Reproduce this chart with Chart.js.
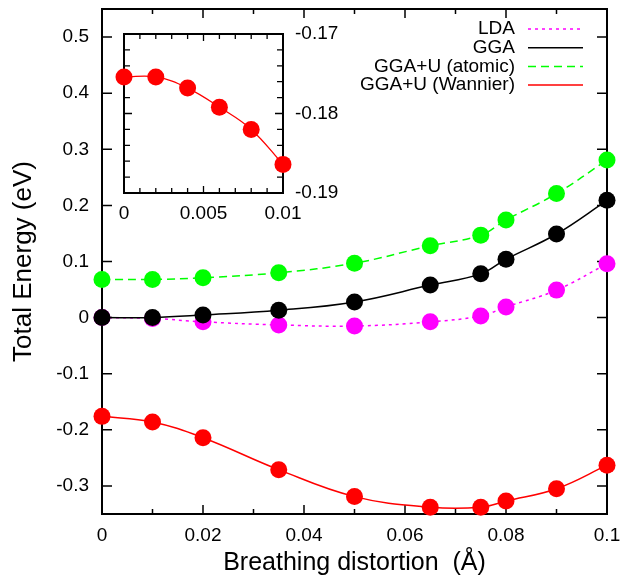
<!DOCTYPE html>
<html>
<head>
<meta charset="utf-8">
<script src="https://cdn.jsdelivr.net/npm/chart.js@4.4.1/dist/chart.umd.min.js"></script>
<style>
  html, body { margin: 0; padding: 0; background: #fff; }
  #wrap { position: relative; width: 624px; height: 578px; }
  #main { position: absolute; left: 0; top: 0; }
  #inset { position: absolute; left: 100px; top: 0; }
</style>
</head>
<body>
<div id="wrap">
  <canvas id="main" width="624" height="578"></canvas>
  <canvas id="inset" width="260" height="230"></canvas>
</div>
<script>
// breathing distortion (Angstrom)
var distortion = [0, 0.01, 0.02, 0.035, 0.05, 0.065, 0.075, 0.08, 0.09, 0.1];
// total energies (eV)
var lda        = [0, -0.0015, -0.0075, -0.013, -0.015, -0.0075, 0.003, 0.019, 0.049, 0.096];
var gga        = [0, 0, 0.0045, 0.013, 0.028, 0.058, 0.078, 0.104, 0.149, 0.209];
var ggauAtomic = [0.068, 0.068, 0.071, 0.080, 0.097, 0.128, 0.147, 0.174, 0.221, 0.281];
var ggauWannier = [-0.176, -0.186, -0.214, -0.271, -0.319, -0.338, -0.338, -0.327, -0.305, -0.263];

// inset: GGA+U (Wannier) at small distortion
var insetDistortion = [0, 0.002, 0.004, 0.006, 0.008, 0.01];
var insetWannier = [-0.1754, -0.1754, -0.1768, -0.1792, -0.1820, -0.1864];

// ticks
var xTicks = [0, 0.01, 0.02, 0.03, 0.04, 0.05, 0.06, 0.07, 0.08, 0.09, 0.1];
var xLabels = [0, 0.02, 0.04, 0.06, 0.08, 0.1];
var yTicks = [-0.3, -0.2, -0.1, 0, 0.1, 0.2, 0.3, 0.4, 0.5];
var insetXTicks = [0, 0.001, 0.002, 0.003, 0.004, 0.005, 0.006, 0.007, 0.008, 0.009, 0.01];
var insetXLabels = [0, 0.005, 0.01];
var insetYTicks = [-0.19, -0.188, -0.186, -0.184, -0.182, -0.18, -0.178, -0.176, -0.174, -0.172, -0.17];
var insetYLabels = [-0.19, -0.18, -0.17];

Chart.defaults.font.family = "'Liberation Sans', Arial, Helvetica, sans-serif";
Chart.defaults.color = '#000';

var FONT = "'Liberation Sans', Arial, Helvetica, sans-serif";

var pts = function (xs, ys) {
  return xs.map(function (x, i) { return {x: x, y: ys[i]}; });
};

var labelFor = function (list) {
  return function (value) {
    for (var i = 0; i < list.length; i++) {
      if (Math.abs(list[i] - value) < 1e-9) return String(+value.toFixed(4));
    }
    return '';
  };
};

var setTicks = function (list) {
  return function (axis) {
    axis.ticks = list.map(function (v) { return {value: v}; });
  };
};

var fixSize = function (prop, size) {
  return function (scale) {
    scale[prop] = size;
    scale.paddingLeft = 0; scale.paddingRight = 0;
    scale.paddingTop = 0; scale.paddingBottom = 0;
  };
};

// gnuplot style frame with inward ticks on all four sides
var frameTicks = {
  id: 'frameTicks',
  beforeDatasetsDraw: function (chart, args, opts) {
    var ctx = chart.ctx, a = chart.chartArea;
    var x = chart.scales.x, y = chart.scales.y;
    ctx.save();
    ctx.strokeStyle = '#000';
    ctx.lineWidth = opts.lineWidth;
    ctx.beginPath();
    x.ticks.forEach(function (t) {
      var px = x.getPixelForValue(t.value);
      var len = t.label ? opts.major : opts.minor;
      ctx.moveTo(px, a.bottom); ctx.lineTo(px, a.bottom - len);
      ctx.moveTo(px, a.top); ctx.lineTo(px, a.top + len);
    });
    y.ticks.forEach(function (t) {
      var py = y.getPixelForValue(t.value);
      var len = t.label ? opts.majorY : opts.minorY;
      ctx.moveTo(a.left, py); ctx.lineTo(a.left + len, py);
      ctx.moveTo(a.right, py); ctx.lineTo(a.right - len, py);
    });
    ctx.stroke();
    ctx.lineWidth = opts.frameWidth;
    ctx.strokeRect(a.left, a.top, a.right - a.left, a.bottom - a.top);
    ctx.restore();
  }
};

// legend: right aligned text with line sample at the right
var keyLegend = {
  id: 'keyLegend',
  afterDatasetsDraw: function (chart, args, opts) {
    var ctx = chart.ctx;
    ctx.save();
    ctx.font = opts.fontSize + 'px ' + FONT;
    ctx.textAlign = 'right';
    ctx.textBaseline = 'middle';
    chart.data.datasets.forEach(function (ds, i) {
      var yy = opts.top + i * opts.step;
      ctx.fillStyle = '#000';
      ctx.fillText(ds.label, opts.textRight, yy);
      ctx.strokeStyle = ds.borderColor;
      ctx.lineWidth = ds.borderWidth;
      ctx.setLineDash(ds.borderDash || []);
      ctx.beginPath();
      ctx.moveTo(opts.lineStart, yy);
      ctx.lineTo(opts.lineEnd, yy);
      ctx.stroke();
    });
    ctx.restore();
  }
};

var series = function (label, data, color, dash, order) {
  return {
    label: label,
    data: pts(distortion, data),
    borderColor: color,
    backgroundColor: color,
    pointBackgroundColor: color,
    pointBorderWidth: 0,
    pointRadius: 8.5,
    borderWidth: 1.5,
    borderDash: dash,
    tension: 0.4,
    clip: false,
    order: order
  };
};

new Chart(document.getElementById('main'), {
  type: 'line',
  data: {
    datasets: [
      series('LDA', lda, '#ff00ff', [3, 4], 1),
      series('GGA', gga, '#000000', [], 0),
      series('GGA+U (atomic)', ggauAtomic, '#00ff00', [8, 5], 0),
      series('GGA+U (Wannier)', ggauWannier, '#ff0000', [], 0)
    ]
  },
  options: {
    responsive: false,
    animation: false,
    layout: {padding: {left: 0, top: 9, right: 17, bottom: 0}},
    plugins: {
      legend: {display: false},
      tooltip: {enabled: false},
      frameTicks: {lineWidth: 1.5, frameWidth: 2, major: 9, minor: 5, majorY: 10, minorY: 5},
      keyLegend: {fontSize: 19, top: 29, step: 18.7, textRight: 515, lineStart: 528, lineEnd: 583}
    },
    scales: {
      x: {
        type: 'linear',
        position: 'bottom',
        min: 0, max: 0.1,
        afterBuildTicks: setTicks(xTicks),
        afterFit: fixSize('height', 64),
        grid: {display: false, drawTicks: false},
        border: {display: false},
        ticks: {autoSkip: false, maxRotation: 0, padding: 10, font: {size: 19}, callback: labelFor(xLabels)},
        title: {display: true, text: 'Breathing distortion  (Å)', font: {size: 25}, padding: {top: 0, bottom: 0}}
      },
      y: {
        type: 'linear',
        position: 'left',
        min: -0.35, max: 0.55,
        afterBuildTicks: setTicks(yTicks),
        afterFit: fixSize('width', 102),
        grid: {display: false, drawTicks: false},
        border: {display: false},
        ticks: {autoSkip: false, padding: 13, font: {size: 19}, callback: labelFor(yTicks)},
        title: {display: true, text: 'Total Energy (eV)', font: {size: 26}, padding: {top: 8, bottom: 0}}
      }
    }
  },
  plugins: [frameTicks, keyLegend]
});

new Chart(document.getElementById('inset'), {
  type: 'line',
  data: {
    datasets: [{
      label: 'GGA+U (Wannier)',
      data: pts(insetDistortion, insetWannier),
      borderColor: '#ff0000',
      backgroundColor: '#ff0000',
      pointBackgroundColor: '#ff0000',
      pointBorderWidth: 0,
      pointRadius: 8.5,
      borderWidth: 1.3,
      tension: 0.4,
      clip: false
    }]
  },
  options: {
    responsive: false,
    animation: false,
    layout: {padding: {left: 24, top: 34, right: 0, bottom: 0}},
    plugins: {
      legend: {display: false},
      tooltip: {enabled: false},
      frameTicks: {lineWidth: 1.3, frameWidth: 2, major: 7, minor: 5, majorY: 8, minorY: 6}
    },
    scales: {
      x: {
        type: 'linear',
        position: 'bottom',
        min: 0, max: 0.01,
        afterBuildTicks: setTicks(insetXTicks),
        afterFit: fixSize('height', 37),
        grid: {display: false, drawTicks: false},
        border: {display: false},
        ticks: {autoSkip: false, maxRotation: 0, padding: 9, font: {size: 19}, callback: labelFor(insetXLabels)}
      },
      y: {
        type: 'linear',
        position: 'right',
        min: -0.19, max: -0.17,
        afterBuildTicks: setTicks(insetYTicks),
        afterFit: fixSize('width', 77),
        grid: {display: false, drawTicks: false},
        border: {display: false},
        ticks: {autoSkip: false, padding: 12, font: {size: 19}, callback: labelFor(insetYLabels)}
      }
    }
  },
  plugins: [frameTicks]
});
</script>
</body>
</html>
